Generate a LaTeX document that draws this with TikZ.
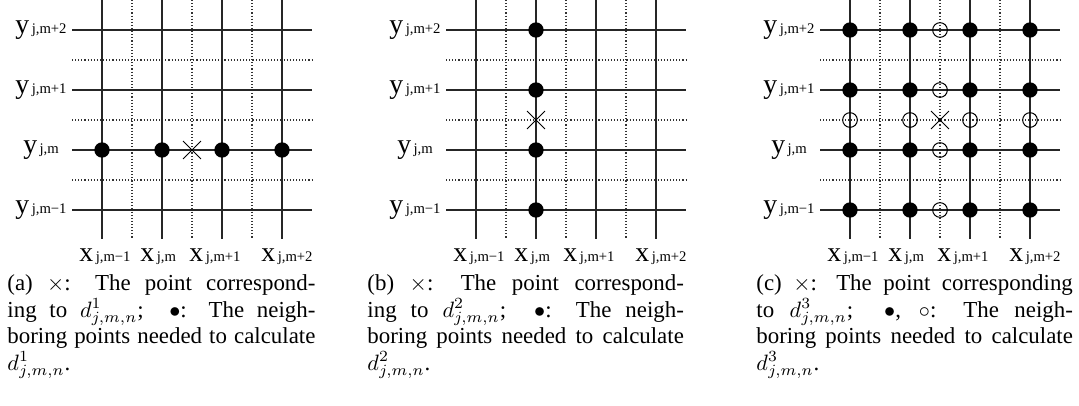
\documentclass[tikz,border=0pt]{standalone}
\usepackage{fontspec}
\setmainfont{Liberation Serif}
\usetikzlibrary{shapes.misc}
\newcommand\gridlab[2]{{\fontsize{12.5}{14}\selectfont #1}\hspace{1.1pt}{\fontsize{6.6}{8}\selectfont #2}}
\newcommand\capline[2]{\makebox[#1][s]{#2}}
\tikzset{
  solidgrid/.style={line width=0.55pt, black!85},
  dotgrid/.style={line width=0.5pt, black!80, dash pattern=on 0.5pt off 0.9pt},
  fulldot/.style={circle, fill=black, inner sep=0pt, minimum size=6.9pt},
  opendot/.style={circle, draw=black, line width=0.45pt, inner sep=0pt, minimum size=6.6pt},
  crossmark/.style={cross out, draw=black, line width=0.45pt, inner sep=0pt, minimum size=7.6pt},
  lab/.style={inner sep=0pt, anchor=base},
  xlab/.style={inner sep=0pt, anchor=base west},
  captext/.style={inner sep=0pt, anchor=base west, font=\fontsize{10.3}{12}\selectfont},
}
\begin{document}
\begin{tikzpicture}[x=0.45pt, y=-0.45pt]
\useasboundingbox (0,0) rectangle (1079,405);
\foreach \ox/\p in {72/a,446/b,820/c}{
  \foreach \k in {1,2,3}{
    \draw[dotgrid] (\ox+60*\k,0) -- (\ox+60*\k,239);
    \draw[dotgrid] (\ox,60*\k) -- (\ox+240,60*\k);
  }
  \foreach \k in {0,...,3}
    \draw[solidgrid] (\ox+30+60*\k,0) -- (\ox+30+60*\k,239);
  \foreach \k/\s in {0/{m+2},1/{m+1},2/{m},3/{m−1}}{
    \draw[solidgrid] (\ox,30+60*\k) -- (\ox+240,30+60*\k);
    \node[lab] (\p-y\k) at (\ox-31,33.6+60*\k) {\gridlab{y}{j,\s}};
  }
  \foreach \k/\s/\dx in {0/{m−1}/7,1/{m}/68,2/{m+1}/117,3/{m+2}/189}
    \node[xlab] (\p-x\k) at (\ox+\dx,261.5) {\gridlab{x}{j,\s}};
}
% panel (a)
\foreach \k in {0,...,3} \node[fulldot] (a-d\k) at (102+60*\k,150) {};
\node[crossmark] (a-c) at (192,150) {};
% panel (b)
\foreach \k in {0,...,3} \node[fulldot] (b-d\k) at (536,30+60*\k) {};
\node[crossmark] (b-c) at (536,120) {};
% panel (c)
\foreach \i in {0,...,3}{
  \foreach \k in {0,...,3} \node[fulldot] (c-d\i\k) at (850+60*\i,30+60*\k) {};
  \node[opendot] (c-ov\i) at (940,30+60*\i) {};
  \node[opendot] (c-oh\i) at (850+60*\i,120) {};
}
\node[crossmark] (c-c) at (940,120) {};
% captions
\node[captext] (cap-a1) at (7,290.5) {\capline{138.6pt}{(a) $\times$: The point correspond-}};
\node[captext] (cap-a2) at (7,317) {\capline{138.6pt}{ing to $d^1_{j,m,n}$;\ \ $\bullet$: The neigh-}};
\node[captext] (cap-a3) at (7,343.5) {\capline{138.6pt}{boring points needed to calculate}};
\node[captext] (cap-a4) at (7,370) {$d^1_{j,m,n}$.};
\node[captext] (cap-b1) at (367,290.5) {\capline{142.4pt}{(b) $\times$: The point correspond-}};
\node[captext] (cap-b2) at (367,317) {\capline{142.4pt}{ing to $d^2_{j,m,n}$;\ \ $\bullet$: The neigh-}};
\node[captext] (cap-b3) at (367,343.5) {\capline{142.4pt}{boring points needed to calculate}};
\node[captext] (cap-b4) at (367,370) {$d^2_{j,m,n}$.};
\node[captext] (cap-c1) at (756,290.5) {\capline{142.4pt}{(c) $\times$: The point corresponding}};
\node[captext] (cap-c2) at (756,317) {\capline{142.4pt}{to $d^3_{j,m,n}$;\ \ $\bullet$, $\circ$: The neigh-}};
\node[captext] (cap-c3) at (756,343.5) {\capline{142.4pt}{boring points needed to calculate}};
\node[captext] (cap-c4) at (756,370) {$d^3_{j,m,n}$.};
\end{tikzpicture}
\end{document}
